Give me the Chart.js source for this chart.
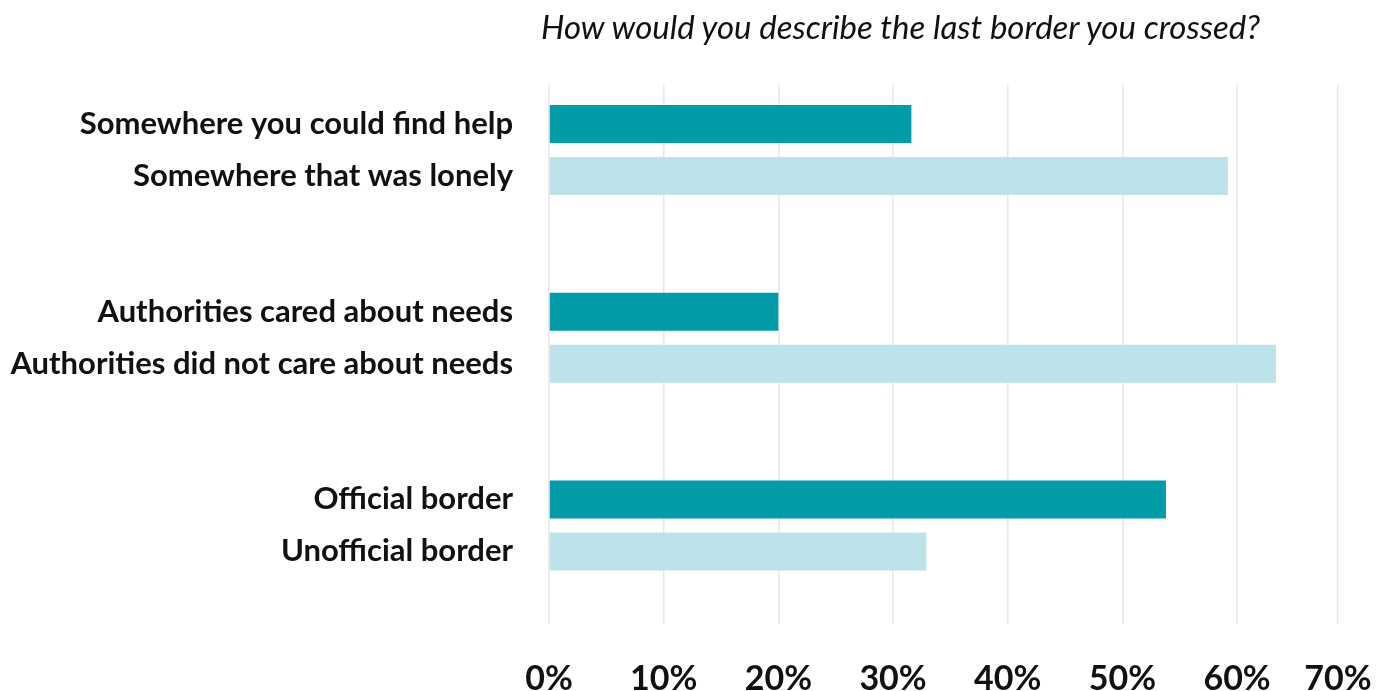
<!DOCTYPE html>
<html>
<head>
<meta charset="utf-8">
<script src="https://cdn.jsdelivr.net/npm/chart.js@4.4.1/dist/chart.umd.min.js"></script>
<style>
  html,body{margin:0;padding:0;background:#fff;}
  #wrap{position:relative;width:1388px;height:691px;}
  #title{position:absolute;left:541px;top:6px;font:italic 33px Lato,sans-serif;color:#111;white-space:nowrap;}
  canvas{position:absolute;left:0;top:0;}
</style>
</head>
<body>
<div id="wrap">
  <canvas id="chart" width="1388" height="691"></canvas>
  <div id="title">How would you describe the last border you crossed?</div>
</div>
<script>
const GROUPS = [
  ['Somewhere you could find help','Somewhere that was lonely'],
  ['Authorities cared about needs','Authorities did not care about needs'],
  ['Official border','Unofficial border']
];
const FIRST = [31.6, 20.0, 53.8];   // dark bars
const SECOND = [59.2, 63.4, 32.9];  // light bars
const TICK_VALUES = [0,10,20,30,40,50,60,68.8];
const TICK_LABELS = ['0%','10%','20%','30%','40%','50%','60%','70%'];

const C = {dark:'#019ca7',light:'#bde2e9',grid:'#ede6e8',text:'#111'};

new Chart(document.getElementById('chart'),{
  type:'bar',
  data:{datasets:[
    {data:FIRST.map((v,i)=>({x:v,y:i})),backgroundColor:C.dark,borderWidth:0,
     categoryPercentage:0.554,barPercentage:0.73},
    {data:SECOND.map((v,i)=>({x:v,y:i})),backgroundColor:C.light,borderWidth:0,
     categoryPercentage:0.554,barPercentage:0.73}
  ]},
  options:{
    indexAxis:'y',responsive:false,animation:false,
    layout:{padding:{top:85,right:50,left:0,bottom:0}},
    plugins:{legend:{display:false},tooltip:{enabled:false}},
    scales:{
      y:{type:'linear',reverse:true,offset:false,min:-0.346,max:2.525,
         afterBuildTicks:s=>{s.ticks=GROUPS.map((g,i)=>({value:i}));},
         afterFit:s=>{s.width=549;s.paddingTop=0;s.paddingBottom=0;},
         grid:{display:false,drawTicks:false},border:{display:false},
         ticks:{color:C.text,padding:36,font:{family:'Lato',size:31,weight:'bold',lineHeight:52/31},
                callback:v=>GROUPS[v]}},
      x:{type:'linear',min:0,max:68.8,
         afterBuildTicks:s=>{s.ticks=TICK_VALUES.map(v=>({value:v}));},
         afterFit:s=>{s.height=67;s.paddingLeft=0;s.paddingRight=0;},
         grid:{color:C.grid,lineWidth:1.5,drawTicks:false},border:{display:false},
         ticks:{color:C.text,padding:35,maxRotation:0,autoSkip:false,
                font:{family:'Lato',size:34,weight:'bold'},
                callback:(v,i)=>TICK_LABELS[i]}}
    }
  }
});
</script>
</body>
</html>
